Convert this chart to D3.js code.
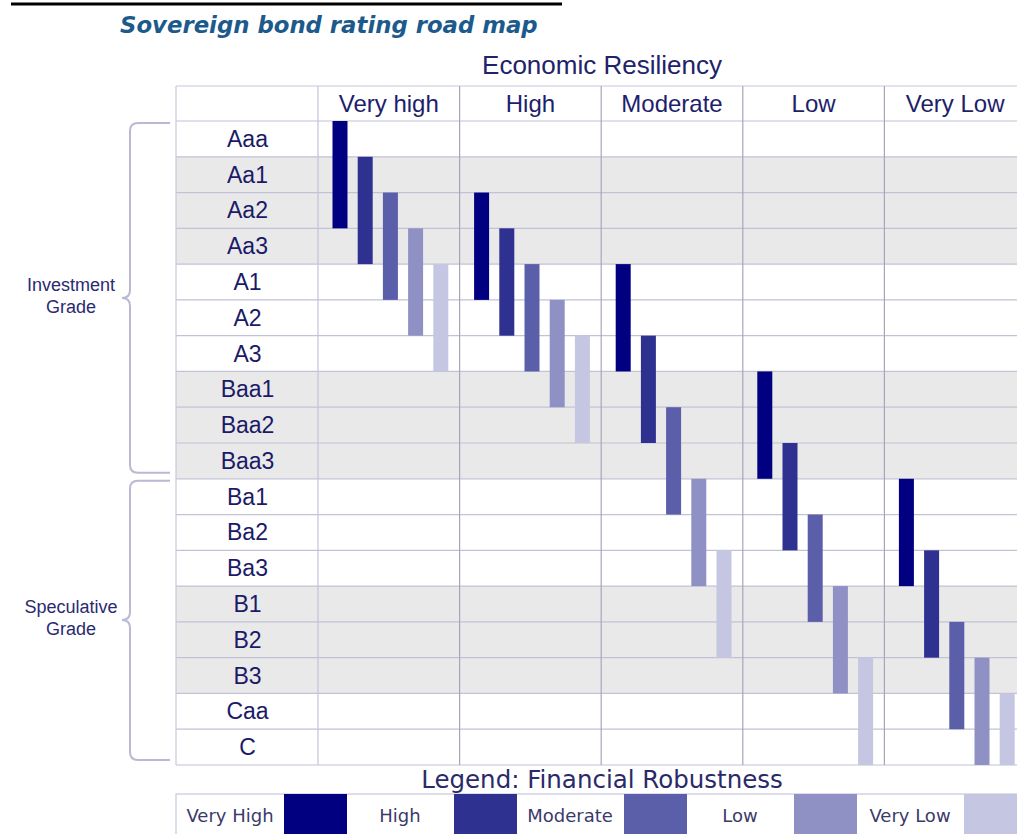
<!DOCTYPE html>
<html>
<head>
<meta charset="utf-8">
<script src="https://cdn.jsdelivr.net/npm/d3@7"></script>
<style>
  html, body { margin: 0; padding: 0; background: #ffffff; }
  svg { display: block; }
</style>
</head>
<body>
<svg id="chart" width="1017" height="834"></svg>
<script>
// Rating scale (rows) and economic resiliency (columns)
const ratings = ["Aaa","Aa1","Aa2","Aa3","A1","A2","A3","Baa1","Baa2","Baa3",
                 "Ba1","Ba2","Ba3","B1","B2","B3","Caa","C"];
const resiliency = ["Very high","High","Moderate","Low","Very Low"];
const robustness = ["Very High","High","Moderate","Low","Very Low"];
const robustnessColors = ["#000080","#2f3190","#5b5ea9","#8f91c4","#c5c6e2"];
const shadedRatings = ["Aa1","Aa2","Aa3","Baa1","Baa2","Baa3","B1","B2","B3"];

// Rating range [from, to] for each financial robustness level, per resiliency column
const rangesVeryHigh = [["Aaa","Aa2"],["Aa1","Aa3"],["Aa2","A1"],["Aa3","A2"],["A1","A3"]];
const rangesHigh     = [["Aa2","A1"],["Aa3","A2"],["A1","A3"],["A2","Baa1"],["A3","Baa2"]];
const rangesModerate = [["A1","A3"],["A3","Baa2"],["Baa2","Ba1"],["Ba1","Ba3"],["Ba3","B2"]];
const rangesLow      = [["Baa1","Baa3"],["Baa3","Ba2"],["Ba2","B1"],["B1","B3"],["B3","C"]];
const rangesVeryLow  = [["Ba1","Ba3"],["Ba3","B2"],["B2","Caa"],["B3","C"],["Caa","C"]];

// Grade groupings shown with braces
const gradeLines = [["Investment","Grade"],["Speculative","Grade"]];
const gradeFrom = ["Aaa","Ba1"];
const gradeTo = ["Baa3","C"];

const bars = [];
[rangesVeryHigh, rangesHigh, rangesModerate, rangesLow, rangesVeryLow].forEach((ranges, ci) => {
  ranges.forEach((r, ri) => {
    bars.push({ col: resiliency[ci], level: robustness[ri], from: r[0], to: r[1] });
  });
});

const svg = d3.select("#chart");

const tableLeft = 176, labelRight = 318, headTop = 86, rowTop = 121, rowBottom = 765;
const colW = 141.6;

const x = d3.scaleBand().domain(resiliency)
  .range([labelRight, labelRight + colW * resiliency.length]);
const y = d3.scaleBand().domain(ratings).range([rowTop, rowBottom]);
const xi = d3.scaleBand().domain(robustness)
  .range([14.5, 14.5 + 25.2 * 5 - 10.2]).paddingInner(0.405).paddingOuter(0);
const color = d3.scaleOrdinal().domain(robustness).range(robustnessColors);

// Black rule at top
svg.append("rect").attr("x", 11).attr("y", 2.5).attr("width", 551).attr("height", 3).attr("fill", "#000");

// Title
svg.append("text")
  .attr("x", 120).attr("y", 33)
  .attr("font-family", "DejaVu Sans")
  .attr("font-weight", "bold").attr("font-style", "italic")
  .attr("font-size", 22.8).attr("fill", "#1d5a8c")
  .text("Sovereign bond rating road map");

svg.append("text")
  .attr("x", 602).attr("y", 74)
  .attr("text-anchor", "middle")
  .attr("font-family", "Liberation Sans, Arial, sans-serif")
  .attr("font-size", 26).attr("fill", "#22226a")
  .text("Economic Resiliency");

// Row backgrounds
svg.append("g").selectAll("rect").data(ratings).join("rect")
  .attr("x", tableLeft).attr("y", d => y(d))
  .attr("width", 1017 - tableLeft).attr("height", y.bandwidth())
  .attr("fill", d => shadedRatings.includes(d) ? "#e9e9ea" : "#ffffff");

// Horizontal grid lines
svg.append("g").selectAll("line").data(ratings.concat(["__end"])).join("line")
  .attr("x1", tableLeft).attr("x2", 1017)
  .attr("y1", d => d === "__end" ? rowBottom : y(d))
  .attr("y2", d => d === "__end" ? rowBottom : y(d))
  .attr("stroke", "#c2c2d6").attr("stroke-width", 1.2);

// Header top line
svg.append("line").attr("x1", tableLeft).attr("x2", 1017)
  .attr("y1", headTop).attr("y2", headTop)
  .attr("stroke", "#c8c8dc").attr("stroke-width", 1.2);

// Vertical lines
svg.append("line").attr("x1", tableLeft).attr("x2", tableLeft)
  .attr("y1", headTop).attr("y2", rowBottom)
  .attr("stroke", "#c8c8dc").attr("stroke-width", 1.2);
svg.append("g").selectAll("line").data(resiliency).join("line")
  .attr("x1", d => x(d)).attr("x2", d => x(d))
  .attr("y1", headTop).attr("y2", rowBottom)
  .attr("stroke", (d, i) => i === 0 ? "#c4c4d8" : "#a6a6b8").attr("stroke-width", 1.2);

// Column headers
svg.append("g").selectAll("text").data(resiliency).join("text")
  .attr("x", d => x(d) + x.bandwidth() / 2).attr("y", 112)
  .attr("text-anchor", "middle")
  .attr("font-family", "Liberation Sans, Arial, sans-serif")
  .attr("font-size", 24).attr("fill", "#1e1e6c")
  .text(d => d);

// Row labels
svg.append("g").selectAll("text").data(ratings).join("text")
  .attr("x", (tableLeft + labelRight) / 2 + 0.5)
  .attr("y", d => y(d) + y.bandwidth() / 2 + 8)
  .attr("text-anchor", "middle")
  .attr("font-family", "Liberation Sans, Arial, sans-serif")
  .attr("font-size", 23).attr("fill", "#1a1a66")
  .text(d => d);

// Bars
svg.append("g").selectAll("rect").data(bars).join("rect")
  .attr("x", d => x(d.col) + xi(d.level))
  .attr("y", d => y(d.from))
  .attr("width", xi.bandwidth())
  .attr("height", d => y(d.to) + y.bandwidth() - y(d.from))
  .attr("fill", d => color(d.level));

// Braces for grade groups
const brace = svg.append("g");
gradeLines.forEach((lines, i) => {
  const top = y(gradeFrom[i]) + 2;
  const bottom = y(gradeTo[i]) + y.bandwidth() - (i === 0 ? 6 : 5);
  const mid = (y(gradeFrom[i]) + y(gradeTo[i]) + y.bandwidth()) / 2 - 2;
  const xv = 130, xr = 170, xt = 122, r = 8;
  const p = d3.path();
  p.moveTo(xr, top);
  p.lineTo(xv + r, top);
  p.quadraticCurveTo(xv, top, xv, top + r);
  p.lineTo(xv, mid - r);
  p.quadraticCurveTo(xv, mid, xt, mid);
  p.quadraticCurveTo(xv, mid, xv, mid + r);
  p.lineTo(xv, bottom - r);
  p.quadraticCurveTo(xv, bottom, xv + r, bottom);
  p.lineTo(xr, bottom);
  brace.append("path").attr("d", p.toString())
    .attr("fill", "none").attr("stroke", "#b9b9d3").attr("stroke-width", 2);
  lines.forEach((t, j) => {
    brace.append("text")
      .attr("x", 71).attr("y", mid - 7 + j * 22)
      .attr("text-anchor", "middle")
      .attr("font-family", "Liberation Sans, Arial, sans-serif")
      .attr("font-size", 18).attr("fill", "#2a2a70")
      .text(t);
  });
});

// Legend
svg.append("text")
  .attr("x", 602).attr("y", 788)
  .attr("text-anchor", "middle")
  .attr("font-family", "DejaVu Sans, Verdana, sans-serif")
  .attr("font-size", 24.5).attr("fill", "#2a2a6a")
  .text("Legend: Financial Robustness");

const legendTop = 794, cellW = 170, textW = 108, swatchW = 63;
svg.append("rect").attr("x", tableLeft).attr("y", legendTop)
  .attr("width", 1017 - tableLeft + 10).attr("height", 60)
  .attr("fill", "#fff").attr("stroke", "#c8c8dc").attr("stroke-width", 1.2);
const leg = svg.append("g").selectAll("g").data(robustness).join("g")
  .attr("transform", (d, i) => `translate(${tableLeft + i * cellW},${legendTop})`);
leg.append("rect").attr("x", textW).attr("y", 0)
  .attr("width", swatchW).attr("height", 60)
  .attr("fill", d => color(d));
leg.append("text")
  .attr("x", textW / 2).attr("y", 28)
  .attr("text-anchor", "middle")
  .attr("font-family", "DejaVu Sans, Verdana, sans-serif")
  .attr("font-size", 18).attr("fill", "#3a3a6a")
  .text(d => d);
</script>
</body>
</html>
